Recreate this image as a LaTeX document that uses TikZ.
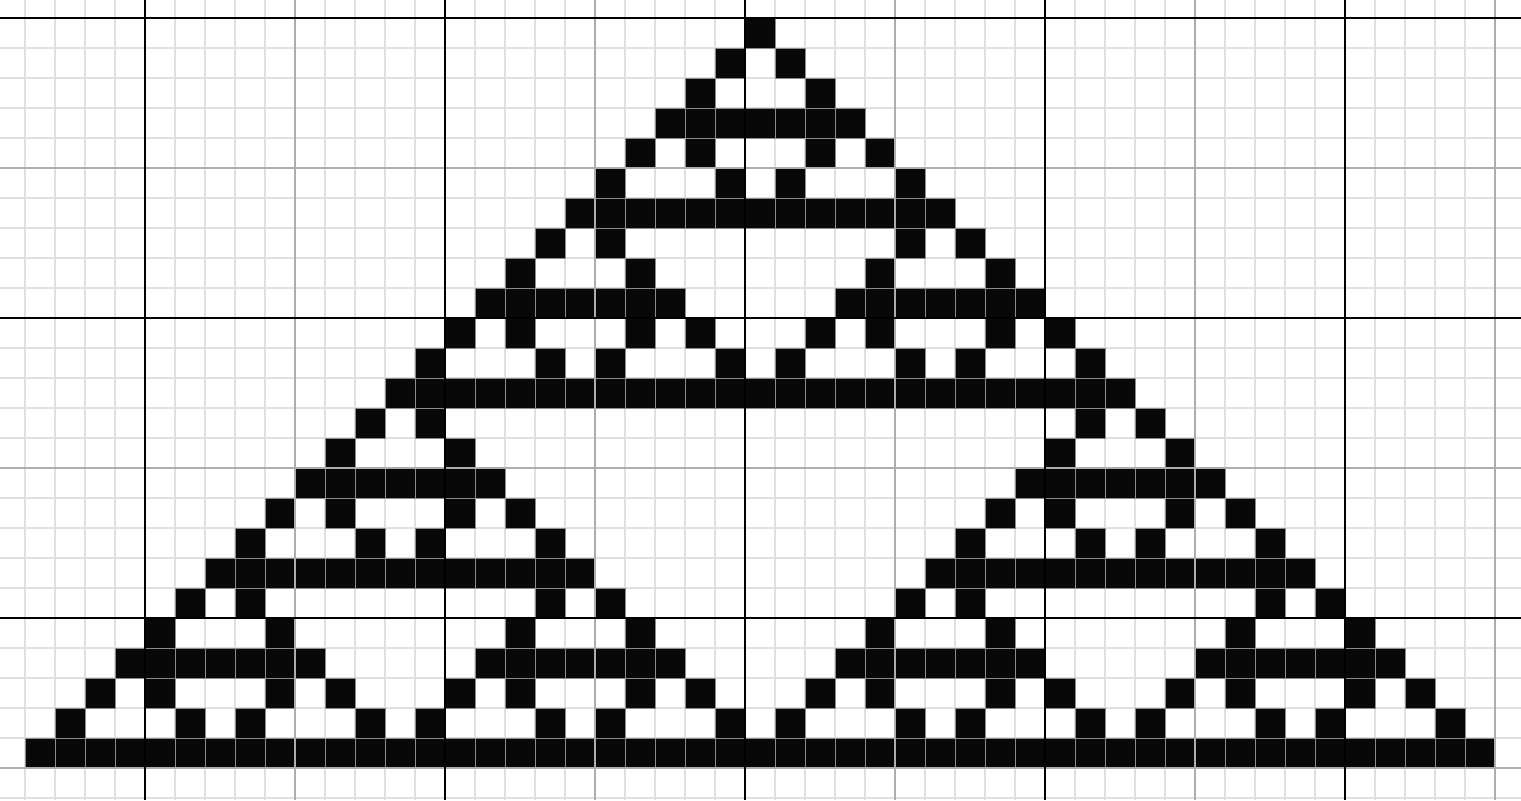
\documentclass[tikz,border=0pt]{standalone}
\begin{document}
\begin{tikzpicture}[x=0.5pt,y=-0.5pt,
  minorline/.style={draw=black!12,line width=0.75pt},
  majorgray/.style={draw=black!32,line width=1pt},
  majorblack/.style={draw=black,line width=1pt},
  cellbox/.style={fill=black!97,draw=black!45,line width=0.5pt}]
\useasboundingbox (0,0) rectangle (1521,800);
\fill[white] (0,0) rectangle (1521,800);
% minor grid
\foreach \x in {25,55,...,1495} \draw[minorline] (\x,0) -- (\x,800);
\foreach \y in {18,48,...,798} \draw[minorline] (0,\y) -- (1521,\y);
% cells
\foreach \ca in {-1,0,1}{\foreach \cb in {-1,0,1}{\foreach \cc in {-1,0,1}{
  \pgfmathtruncatemacro\rr{3*abs(\ca)+6*abs(\cb)+12*abs(\cc)}
  \pgfmathtruncatemacro\kk{3*\ca+6*\cb+12*\cc}
  \foreach \dr/\dk in {0/0,1/-1,1/1,2/-2,2/2,3/-3,3/-2,3/-1,3/0,3/1,3/2,3/3}{
    \path[cellbox] ({745+30*(\kk+\dk)},{18+30*(\rr+\dr)}) rectangle ++(30,30);
  }}}}
% major grid
\foreach \x in {295,595,...,1495} \draw[majorgray] (\x,0) -- (\x,800);
\foreach \y in {168,468,768} \draw[majorgray] (0,\y) -- (1521,\y);
\foreach \x in {145,445,...,1345} \draw[majorblack] (\x,0) -- (\x,800);
\foreach \y in {18,318,618} \draw[majorblack] (0,\y) -- (1521,\y);
\end{tikzpicture}
\end{document}
